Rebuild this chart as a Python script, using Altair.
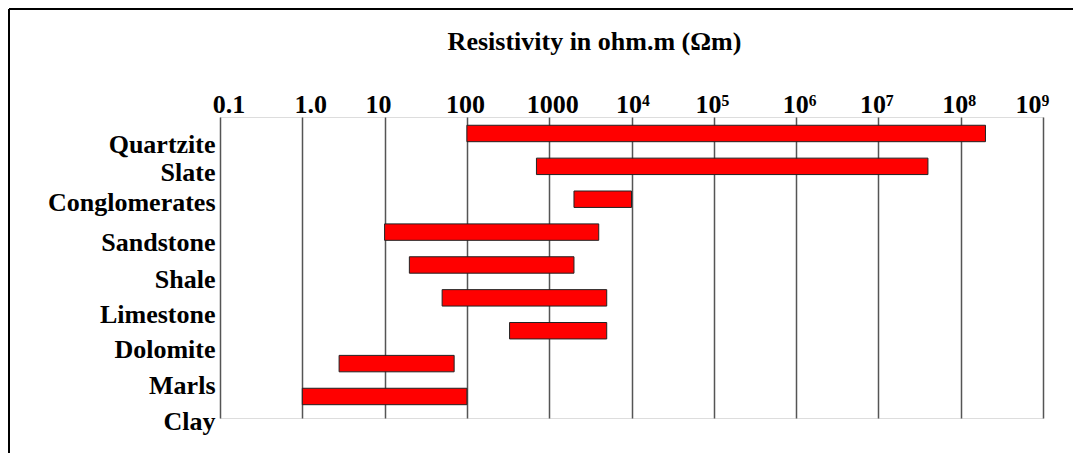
import json
import math
import altair as alt
import pandas as pd

# ---------------- data ----------------
categories = ["Quartzite", "Slate", "Conglomerates", "Sandstone", "Shale",
              "Limestone", "Dolomite", "Marls", "Clay"]
low_values = [100, 700, 2000, 10, 20, 50, 330, 2.8, 1]
high_values = [2e8, 4e7, 1e4, 4000, 2000, 5000, 5000, 70, 100]

tick_values = [0.1, 1, 10, 100, 1000, 1e4, 1e5, 1e6, 1e7, 1e8, 1e9]
tick_labels = ["0.1", "1.0", "10", "100", "1000", "10⁴", "10⁵", "10⁶",
               "10⁷", "10⁸", "10⁹"]
title_text = "Resistivity in ohm.m (Ωm)"

df = pd.DataFrame({"rock": categories, "low": low_values, "high": high_values})

# ---------------- layout / style ----------------
W, H = 823, 301
FONT = "Liberation Serif, Times New Roman, DejaVu Serif, serif"

# small per-label shifts seen in the reference
x_label_shift = [8.5, 8, -6.5, -2, 3, 1, -2, 3, -2, -2, -11]
y_label_shift = [19.5, 15, 11.5, 18.5, 23, 25, 27, 30, 33.5]

x_cond = [
    {"test": f"round(log(datum.value)/LN10) == {round(math.log10(v))}", "value": s}
    for v, s in zip(tick_values, x_label_shift)
]
y_cond = [
    {"test": f"datum.value === '{c}'", "value": s}
    for c, s in zip(categories, y_label_shift)
]

label_expr = json.dumps(tick_labels, ensure_ascii=False) + "[round(log(datum.value)/LN10)+1]"

bars = alt.Chart(df).mark_bar(color="#ff0000", stroke="#222222", strokeWidth=1).encode(
    x=alt.X(
        "low:Q",
        scale=alt.Scale(type="log", domain=[0.1, 1e9], nice=False),
        axis=alt.Axis(
            orient="top", values=tick_values, labelExpr=label_expr, title=None,
            grid=True, gridColor="#555555", gridWidth=1.5,
            ticks=False, tickSize=0, domain=False,
            labelFont=FONT, labelFontSize=26, labelFontWeight="bold",
            labelColor="black", labelPadding=5, labelBaseline="alphabetic",
            labelOffset={"condition": x_cond, "value": 0},
            labelFlush=False, labelOverlap=False,
        ),
    ),
    x2="high:Q",
    y=alt.Y(
        "rock:N", sort=categories,
        scale=alt.Scale(paddingInner=0.5, paddingOuter=0.328, align=0.383),
        axis=alt.Axis(
            title=None, ticks=False, tickSize=0, domain=False, grid=False,
            labelFont=FONT, labelFontSize=26, labelFontWeight="bold",
            labelColor="black", labelPadding=5, labelBaseline="alphabetic",
            labelAlign="right",
            labelOffset={"condition": y_cond, "value": 20},
            labelOverlap=False,
        ),
    ),
)

frame_data = alt.Data(values=[{"f": 0}])
left_edge = alt.Chart(frame_data).mark_rule(color="black", strokeWidth=2).encode(
    x=alt.value(-211), y=alt.value(-108), y2=alt.value(H + 60)
)
top_edge = alt.Chart(frame_data).mark_rule(color="black", strokeWidth=2).encode(
    x=alt.value(-211), x2=alt.value(W + 60), y=alt.value(-108)
)

chart = alt.layer(bars, left_edge, top_edge).properties(
    width=W,
    height=H,
    title=alt.TitleParams(
        text=title_text, font=FONT, fontSize=26, fontWeight="bold",
        color="black", anchor="middle", frame="group", dx=-37,
        offset=0, dy=68, baseline="alphabetic",
    ),
    autosize=alt.AutoSizeParams(type="none"),
    padding={"left": 212, "top": 109, "right": 30, "bottom": 35},
).configure_view(stroke=None).configure(background="white")

chart.save("out.html", embed_options={"renderer": "svg", "actions": False})
